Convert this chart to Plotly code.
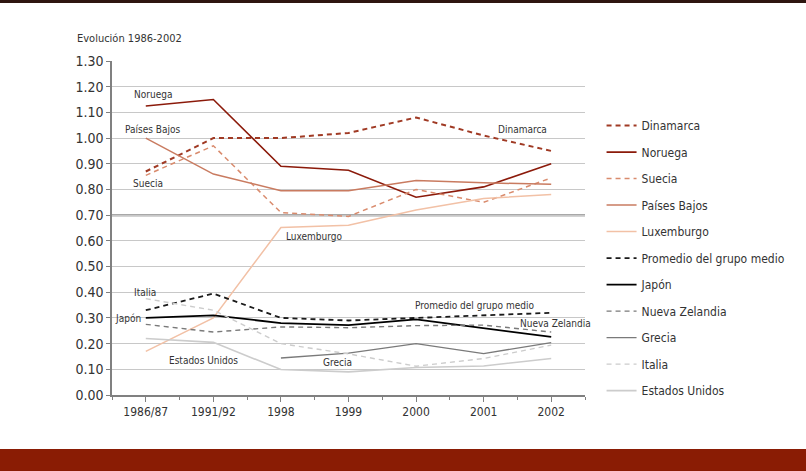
import plotly.graph_objects as go

# categorías del eje x
periodos = ['1986/87', '1991/92', '1998', '1999', '2000', '2001', '2002']

# valores
dinamarca = [0.87, 1.00, 1.00, 1.02, 1.08, 1.01, 0.95]
noruega = [1.125, 1.15, 0.89, 0.875, 0.77, 0.81, 0.90]
suecia = [0.855, 0.97, 0.71, 0.695, 0.80, 0.75, 0.845]
paises_bajos = [1.00, 0.86, 0.795, 0.795, 0.835, 0.826, 0.82]
luxemburgo = [0.17, 0.30, 0.652, 0.661, 0.72, 0.765, 0.78]
promedio = [0.33, 0.395, 0.30, 0.29, 0.30, 0.31, 0.32]
japon = [0.30, 0.31, 0.28, 0.272, 0.294, 0.259, 0.226]
nueva_zelandia = [0.275, 0.245, 0.265, 0.262, 0.27, 0.272, 0.245]
grecia = [None, None, 0.144, 0.163, 0.20, 0.161, 0.204]
italia = [0.375, 0.33, 0.20, 0.16, 0.112, 0.142, 0.194]
estados_unidos = [0.22, 0.205, 0.099, 0.09, 0.107, 0.113, 0.142]

series = [
    ('Dinamarca', dinamarca, '#a03a24', '5px,4px', 2),
    ('Noruega', noruega, '#8b1a0a', 'solid', 1.6),
    ('Suecia', suecia, '#d98b6d', '5px,4px', 1.5),
    ('Países Bajos', paises_bajos, '#c97b60', 'solid', 1.5),
    ('Luxemburgo', luxemburgo, '#f2c1a6', 'solid', 1.5),
    ('Promedio del grupo medio', promedio, '#1a1a1a', '5px,4px', 1.8),
    ('Japón', japon, '#000000', 'solid', 1.8),
    ('Nueva Zelandia', nueva_zelandia, '#7a7a7a', '5px,4px', 1.4),
    ('Grecia', grecia, '#7a7a7a', 'solid', 1.4),
    ('Italia', italia, '#cccccc', '5px,4px', 1.4),
    ('Estados Unidos', estados_unidos, '#cccccc', 'solid', 1.6),
]

FONT = 'DejaVu Sans Condensed, Liberation Sans Narrow, Arial Narrow, sans-serif'
xs = list(range(len(periodos)))

fig = go.Figure()
for i, (nombre, vals, color, dash, w) in enumerate(series):
    fig.add_trace(go.Scatter(
        x=xs, y=vals, name=nombre, mode='lines',
        line=dict(color=color, dash=dash, width=w),
        legendgroup=str(i),
    ))

# etiquetas dentro del gráfico
etiquetas = [
    ('Noruega', 0.11, 1.168),
    ('Países Bajos', 0.1, 1.032),
    ('Suecia', 0.03, 0.825),
    ('Dinamarca', 5.58, 1.032),
    ('Luxemburgo', 2.5, 0.615),
    ('Italia', -0.01, 0.40),
    ('Japón', -0.26, 0.296),
    ('Estados Unidos', 0.85, 0.136),
    ('Promedio del grupo medio', 4.87, 0.35),
    ('Nueva Zelandia', 6.07, 0.28),
    ('Grecia', 2.83, 0.128),
]
for txt, x, y in etiquetas:
    fig.add_annotation(x=x, y=y, text=txt, showarrow=False,
                       font=dict(size=10, color='#333333', family=FONT))

fig.add_annotation(x=-0.078, y=1.066, xref='paper', yref='paper', text='Evolución 1986-2002',
                   showarrow=False, xanchor='left', yanchor='middle',
                   font=dict(size=11, color='#333333', family=FONT))

# línea destacada en 0.70
fig.add_hline(y=0.70, line_color='#a8a8a8', line_width=2.5, layer='below')

# franjas superior e inferior
fig.add_shape(type='rect', xref='paper', yref='paper', x0=-0.3, x1=1.5,
              y0=-0.1617, y1=-0.25, fillcolor='#8a1c04', line_width=0)
fig.add_shape(type='rect', xref='paper', yref='paper', x0=-0.3, x1=1.5,
              y0=1.1737, y1=1.2, fillcolor='#2e1610', line_width=0)

fig.update_xaxes(
    range=[-0.5, 6.5], tickmode='array', tickvals=xs, ticktext=periodos,
    showgrid=False, zeroline=False, showline=True, linecolor='#808080', linewidth=1.5,
    ticks='outside', ticklen=5, tickcolor='#808080', tickwidth=1,
    minor=dict(tickmode='array', tickvals=[v - 0.5 for v in range(8)],
               ticks='outside', ticklen=3, tickcolor='#808080', showgrid=False),
    tickfont=dict(size=12, color='#333333', family=FONT),
)
fig.update_yaxes(
    range=[0, 1.3], dtick=0.1, tickformat='.2f',
    showgrid=True, gridcolor='#c8c8c8', gridwidth=1, zeroline=False,
    showline=True, linecolor='#808080', linewidth=1.5,
    ticks='outside', ticklen=4, tickcolor='#808080',
    tickfont=dict(size=14, color='#333333', family=FONT),
)

fig.update_layout(
    width=806, height=471,
    margin=dict(l=112, r=221, t=61, b=76),
    paper_bgcolor='white', plot_bgcolor='white',
    showlegend=True,
    legend=dict(x=1.035, y=0.85, xanchor='left', yanchor='top',
                traceorder='grouped', tracegroupgap=7.5,
                font=dict(size=12, color='#333333', family=FONT),
                bgcolor='rgba(0,0,0,0)'),
)

fig.write_html('out.html', config={'displayModeBar': False},
               post_script="document.body.style.margin='0';")
